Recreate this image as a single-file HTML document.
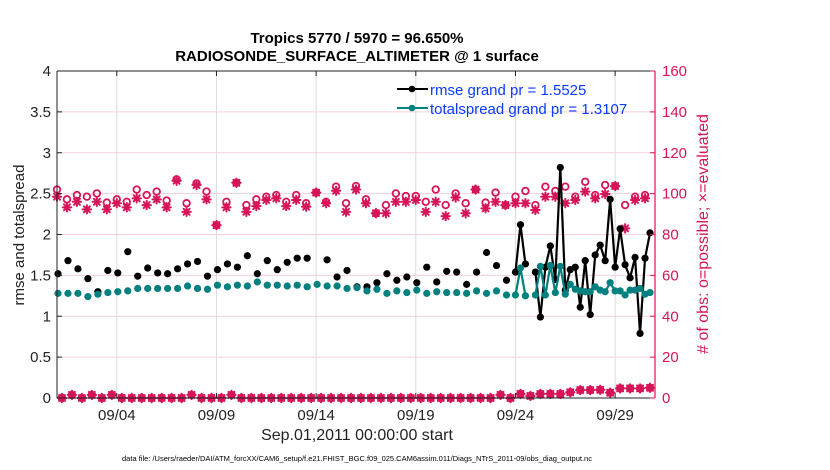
<!DOCTYPE html>
<html><head><meta charset="utf-8">
<style>
html,body{margin:0;padding:0;background:#fff;}
svg{display:block;font-family:"Liberation Sans",Arial,sans-serif;}
</style></head>
<body>
<svg id="chart" width="830" height="470" viewBox="0 0 830 470" xmlns="http://www.w3.org/2000/svg">
<rect width="830" height="470" fill="#fff"/>
<g id="grid"></g>
<g id="series"></g>
<g id="axes"></g>
<text x="357" y="43" text-anchor="middle" font-size="15" font-weight="bold" fill="#000">Tropics 5770 / 5970 = 96.650%</text>
<text x="357" y="61" text-anchor="middle" font-size="15" font-weight="bold" fill="#000">RADIOSONDE_SURFACE_ALTIMETER @ 1 surface</text>
<text x="357" y="440" text-anchor="middle" font-size="16" fill="#222">Sep.01,2011 00:00:00 start</text>
<text x="357" y="461" text-anchor="middle" font-size="7.5" fill="#000">data file: /Users/raeder/DAI/ATM_forcXX/CAM6_setup/f.e21.FHIST_BGC.f09_025.CAM6assim.011/Diags_NTrS_2011-09/obs_diag_output.nc</text>
<text transform="translate(24,235) rotate(-90)" text-anchor="middle" font-size="15" fill="#222">rmse and totalspread</text>
<text transform="translate(708,234) rotate(-90)" text-anchor="middle" font-size="16" fill="#d6145a"># of obs: o=possible; ×=evaluated</text>
<g>
  <g>
    <line x1="397" y1="89" x2="428" y2="89" stroke="#000" stroke-width="2"/>
    <circle cx="412" cy="89" r="3.3" fill="#000"/>
    <text x="430" y="95" font-size="15" fill="#0b3bff">rmse grand pr = 1.5525</text>
  </g>
  <g>
    <line x1="397" y1="108" x2="428" y2="108" stroke="#00807f" stroke-width="2"/>
    <circle cx="412" cy="108" r="3.3" fill="#00807f"/>
    <text x="430" y="114" font-size="15" fill="#0b3bff">totalspread grand pr = 1.3107</text>
  </g>
</g>
</svg>
<script>
// ---- data ----
const xTickDays = [4, 9, 14, 19, 24, 29];
const xTickLabels = ["09/04", "09/09", "09/14", "09/19", "09/24", "09/29"];
const leftTicks = [0, 0.5, 1, 1.5, 2, 2.5, 3, 3.5, 4];
const rightTicks = [0, 20, 40, 60, 80, 100, 120, 140, 160];
const rmsePre = [1.52,1.68,1.58,1.46,1.30,1.56,1.53,1.79,1.49,1.59,1.53,1.52,1.58,1.64,1.67,1.49,1.57,1.64,1.60,1.74,1.52,1.68,1.57,1.66,1.71,1.71,null,1.69,1.48,1.56,1.36,1.36,1.41,1.52,1.44,1.48,1.41,1.60,1.42,1.55,1.54,1.39,1.54,1.78,1.62,1.44];
const spreadPre = [1.28,1.28,1.28,1.24,1.27,1.29,1.30,1.31,1.34,1.34,1.34,1.34,1.34,1.37,1.34,1.33,1.38,1.36,1.38,1.37,1.42,1.38,1.38,1.37,1.38,1.36,1.39,1.37,1.37,1.34,1.35,1.31,1.33,1.28,1.31,1.29,1.32,1.28,1.30,1.29,1.29,1.28,1.31,1.28,1.31,1.26];
const rmsePost = [1.54,2.12,1.64,null,1.54,0.99,1.60,1.86,1.45,2.82,1.32,1.57,1.60,1.11,1.68,1.02,1.75,1.87,1.68,2.43,1.60,2.07,1.63,1.47,1.72,0.79,1.71,2.02];
const spreadPost = [1.26,1.59,1.25,null,1.26,1.61,1.26,1.62,1.29,1.61,1.27,1.39,1.33,1.31,1.30,1.30,1.36,1.32,1.30,1.41,1.31,1.31,1.26,1.32,1.32,1.34,1.27,1.29];
const obsPossible = [102,97.2,99.3,98.5,100.1,95.6,97.2,96,102,99.3,101,96.6,107,95.3,105,101,84.6,96,105.3,94.4,97.2,98.5,99.3,96,99.3,95.3,100.5,96,103.4,95.3,103.7,97.2,90.4,94.4,100.1,98.8,98.8,96,102,94.4,100.1,95.3,102,95.6,100.5,94.4,98.5,101.3,94.4,103.4,101.3,103.4,98.5,105.8,99.3,104.2,103.7,94.4,98.5,99.3];
const obsEvaluated = [98.5,93.3,96,92.3,96,92.3,95.3,93.3,97.7,94.4,97.2,93.3,106.3,91.1,104.2,97.2,84.6,93.3,105.3,91.1,93.9,96.9,97.7,93.9,96.9,93.6,100.5,95.3,101.4,91.1,102,95.3,90.4,90.4,96,96,96.9,91.1,96,89,98.1,90.4,102,92.8,96,94.4,95.3,95.3,92,98.5,98.5,95.3,96.9,101,97.7,99.8,103.7,83,96.9,97.7];
const obsLow = [0,1.5,0,1.5,0,1.5,0,0,0,0,0,0,0,1.5,0,0,0,1.5,0,0,0,0,0,0,0,0,0,0,0,0,0,0,0,0,0,0,0,0,0,0,0,0,0,0,1.5,0,2,1,2,2,2,2.8,3.9,3.9,4,2.6,4.7,4.7,4.7,5];

// ---- scales ----
const X0 = 57, X1 = 655, Y0 = 398, Y1 = 71;
const D0 = 1, D1 = 31;
function xs(d){ return X0 + (d - D0) / (D1 - D0) * (X1 - X0); }
function yl(v){ return Y0 - v / 4 * (Y0 - Y1); }
function yr(v){ return Y0 - v / 160 * (Y0 - Y1); }
const NS = "http://www.w3.org/2000/svg";
function mk(tag, attrs, parent){ const e = document.createElementNS(NS, tag); for (const k in attrs) e.setAttribute(k, attrs[k]); parent.appendChild(e); return e; }

const grid = document.getElementById('grid');
const axes = document.getElementById('axes');
const series = document.getElementById('series');

// grid
leftTicks.forEach((t) => {
  if (t === 0 || t === 4) return;
  const g = mk('line', {x1: X0, x2: X1, y1: yl(t), y2: yl(t), stroke: '#f5cfdc', 'stroke-width': 1}, grid);
  
  
});
xTickDays.forEach((d) => {
  const g = mk('line', {x1: xs(d), x2: xs(d), y1: Y1, y2: Y0, stroke: '#dcdcdc', 'stroke-width': 1}, grid);
  
  
});

// axes
const la = mk('line', {x1: X0, x2: X0, y1: Y1, y2: Y0, stroke: '#222', 'stroke-width': 1}, axes);


const ba = mk('line', {x1: X0, x2: X1, y1: Y0, y2: Y0, stroke: '#222', 'stroke-width': 1}, axes);


const ta = mk('line', {x1: X0, x2: X1, y1: Y1, y2: Y1, stroke: '#222', 'stroke-width': 1}, axes);


const ra = mk('line', {x1: X1, x2: X1, y1: Y1, y2: Y0, stroke: '#d6145a', 'stroke-width': 1.2}, axes);



leftTicks.forEach((t) => {
  mk('line', {x1: X0, x2: X0 + 5, y1: yl(t), y2: yl(t), stroke: '#222'}, axes);
  const tx = mk('text', {x: X0 - 6, y: yl(t) + 5, 'text-anchor': 'end', 'font-size': 15, fill: '#222'}, axes);
  tx.textContent = String(t);
  
  
});
rightTicks.forEach((t) => {
  mk('line', {x1: X1 - 5, x2: X1, y1: yr(t), y2: yr(t), stroke: '#d6145a'}, axes);
  const tx = mk('text', {x: X1 + 7, y: yr(t) + 5, 'text-anchor': 'start', 'font-size': 15, fill: '#d6145a'}, axes);
  tx.textContent = String(t);
  
  
});
xTickDays.forEach((d, i) => {
  mk('line', {x1: xs(d), x2: xs(d), y1: Y0, y2: Y0 - 5, stroke: '#222'}, axes);
  mk('line', {x1: xs(d), x2: xs(d), y1: Y1, y2: Y1 + 5, stroke: '#222'}, axes);
  const tx = mk('text', {x: xs(d), y: Y0 + 22, 'text-anchor': 'middle', 'font-size': 15, fill: '#222'}, axes);
  tx.textContent = xTickLabels[i];
  
  
});

// build time/value lists
const preT = rmsePre.map((_, i) => 1.05 + 0.5 * i);
const postT = rmsePost.map((_, j) => 24 + 0.25 * j);
const rmseT = preT.concat(postT), rmseV = rmsePre.concat(rmsePost);
const spreadV = spreadPre.concat(spreadPost);

function drawAsterisk(cx, cy, parent){
  const g = mk('g', {stroke: '#d6145a', 'stroke-width': 2, 'stroke-linecap': 'round'}, parent);
  for (let k = 0; k < 4; k++) {
    const a = k * Math.PI / 4, r = 4.2;
    mk('line', {x1: cx - r * Math.cos(a), y1: cy - r * Math.sin(a), x2: cx + r * Math.cos(a), y2: cy + r * Math.sin(a)}, g);
  }
  return g;
}

// pink obs
const obsT = obsPossible.map((_, i) => 1 + 0.5 * i);
obsT.forEach((t, i) => {
  const c = mk('circle', {cx: xs(t), cy: yr(obsPossible[i]), r: 3.3, fill: 'none', stroke: '#d6145a', 'stroke-width': 1.8}, series);
  
  
  const a = drawAsterisk(xs(t), yr(obsEvaluated[i]), series);
  
  
});
const lowT = obsLow.map((_, i) => 1.25 + 0.5 * i);
lowT.forEach((t, i) => {
  const c = mk('circle', {cx: xs(t), cy: yr(obsLow[i]), r: 3.3, fill: 'none', stroke: '#d6145a', 'stroke-width': 1.8}, series);
  
  
  const a = drawAsterisk(xs(t), yr(obsLow[i]), series);
  
  
});

function drawSeries(vals, color, name){
  for (let i = 1; i < rmseT.length; i++) {
    if (vals[i] == null || vals[i-1] == null) continue;
    if (rmseT[i] - rmseT[i-1] > 0.3) continue;
    const l = mk('line', {x1: xs(rmseT[i-1]), y1: yl(vals[i-1]), x2: xs(rmseT[i]), y2: yl(vals[i]), stroke: color, 'stroke-width': 2.2}, series);
    
    
  }
  vals.forEach((v, i) => {
    if (v == null) return;
    const c = mk('circle', {cx: xs(rmseT[i]), cy: yl(v), r: 3.6, fill: color}, series);
    
    
  });
}
drawSeries(rmseV, '#000', 'rmse');
drawSeries(spreadV, '#00807f', 'totalspread');
</script>
</body></html>
